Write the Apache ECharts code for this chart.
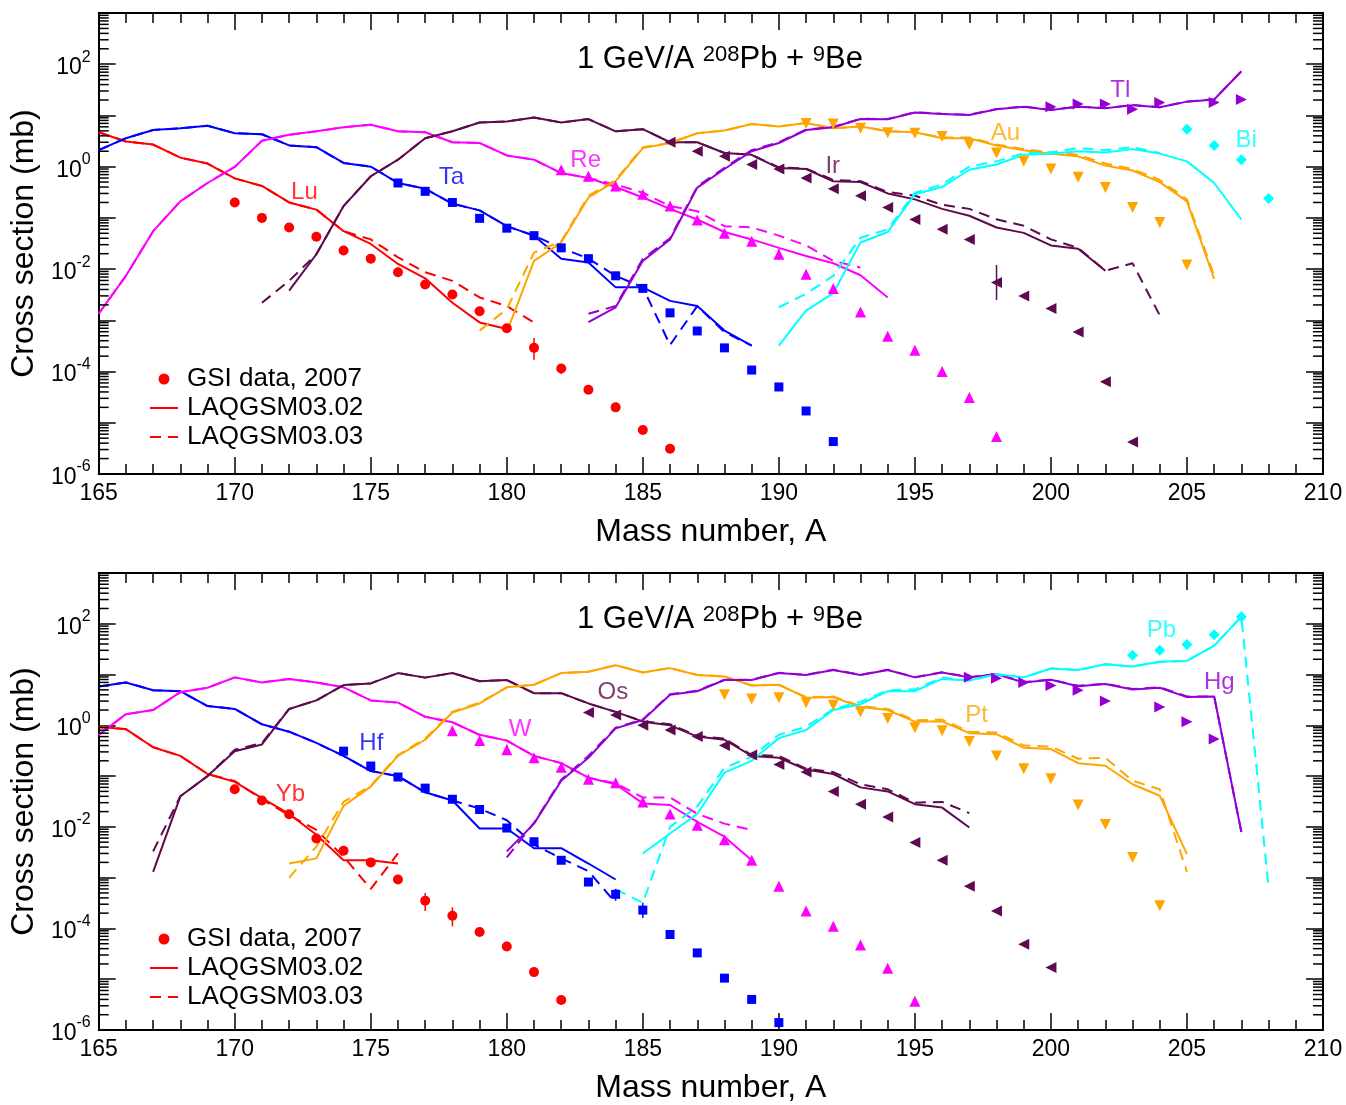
<!DOCTYPE html>
<html><head><meta charset="utf-8">
<script src="https://cdn.jsdelivr.net/npm/echarts@6/dist/echarts.min.js"></script>
<style>html,body{margin:0;padding:0;background:#fff}#c{width:1346px;height:1105px}</style>
</head><body><div id="c"></div><script>
// ===== Top panel: Lu, Ta, Re, Ir, Au, Tl, Bi  (value = cross section in mb, index i -> A = start + i)
const luSolidStart = 165, luSolid = [4.7,3.1,2.7,1.5,1.15,0.59,0.42,0.2,0.145,0.055,0.031,0.0126,0.0066,0.0022,0.00091,0.00068];
const luDashStart = 165, luDash = [4.7,3.1,2.7,1.5,1.15,0.59,0.42,0.2,0.145,0.055,0.038,0.017,0.0087,0.0059,0.0028,0.0019,0.00091];
const luDataStart = 170, luData = [0.2,0.1,0.065,0.043,0.023,0.016,0.0087,0.005,0.0032,0.0015,0.0007,0.00029,0.000115,4.4e-5,2.0e-5,7.2e-6,3.1e-6];

const taSolidStart = 165, taSolid = [2.1,3.6,5.2,5.6,6.3,4.5,4.3,2.6,2.4,1.18,1.0,0.48,0.37,0.19,0.14,0.069,0.045,0.016,0.0135,0.0044,0.0044,0.0024,0.0019,0.00063,0.00032];
const taDashStart = 165, taDash = [2.1,3.6,5.2,5.6,6.3,4.5,4.3,2.6,2.4,1.18,1.0,0.48,0.37,0.19,0.14,0.069,0.045,0.026,0.016,0.0074,0.0044,0.00033,0.0019,0.00059,0.00032];
const taDataStart = 176, taData = [0.48,0.33,0.2,0.098,0.063,0.045,0.026,0.016,0.0074,0.0042,0.0014,0.00062,0.00029,0.000107,5.0e-5,1.7e-5,4.3e-6];

const reSolidStart = 165, reSolid = [0.00135,0.0074,0.055,0.21,0.48,0.99,3.2,4.2,4.9,5.9,6.6,4.9,4.7,3.0,2.9,1.66,1.37,0.75,0.6,0.4,0.25,0.15,0.093,0.053,0.038,0.026,0.018,0.013,0.0076,0.0028];
const reDashStart = 165, reDash = [0.00135,0.0074,0.055,0.21,0.48,0.99,3.2,4.2,4.9,5.9,6.6,4.9,4.7,3.0,2.9,1.66,1.37,0.75,0.6,0.45,0.31,0.17,0.135,0.069,0.065,0.045,0.029,0.0145,0.0107];
const reDataStart = 182, reData = [0.87,0.65,0.42,0.29,0.17,0.091,0.05,0.035,0.0195,0.0079,0.0042,0.00145,0.00049,0.00026,1.0e-4,3.1e-5,5.4e-6];

const irSolidStart = 172, irSolid = [0.0038,0.0195,0.17,0.65,1.37,3.6,4.9,7.3,7.6,9.1,7.3,8.5,4.9,5.4,3.0,3.0,1.85,1.7,0.94,0.9,0.52,0.5,0.3,0.23,0.15,0.11,0.065,0.051,0.029,0.025,0.0093];
const irDashStart = 171, irDash = [0.0022,0.0059,0.0195,0.17,0.65,1.37,3.6,4.9,7.3,7.6,9.1,7.3,8.5,4.9,5.4,3.0,3.0,1.85,1.7,0.97,0.92,0.55,0.52,0.32,0.27,0.18,0.15,0.094,0.07,0.038,0.026,0.0093,0.013,0.00125];
const irDataStart = 186, irData = [3.0,2.0,1.6,1.1,0.9,0.6,0.37,0.27,0.16,0.093,0.06,0.038,0.0055,0.003,0.0017,0.00059,6.3e-5,4.2e-6];

const auSolidStart = 180, auSolid = [0.00059,0.0145,0.033,0.25,0.52,2.3,2.9,4.5,5.1,6.8,6.1,7.1,5.6,6.1,4.9,4.7,3.6,3.6,2.6,2.1,1.79,1.59,1.05,0.84,0.5,0.21,0.0064];
const auDashStart = 179, auDash = [0.00063,0.00166,0.021,0.035,0.27,0.55,2.4,2.9,4.5,5.1,6.8,6.1,7.1,5.6,6.1,4.9,4.7,3.7,3.7,2.7,2.2,1.9,1.7,1.15,0.9,0.55,0.23,0.0074];
const auDataStart = 191, auData = [7.0,6.8,5.6,4.6,4.5,3.9,2.7,1.84,1.27,0.9,0.62,0.39,0.16,0.081,0.012];

const tlSolidStart = 183, tlSolid = [0.00092,0.0018,0.0145,0.038,0.39,0.9,2.0,2.9,5.2,5.9,8.5,8.4,11.4,10.7,10.2,13.2,14.8,12.8,14.8,13.8,15.9,14.4,18.6,20.5,73];
const tlDashStart = 183, tlDash = [0.00134,0.0019,0.016,0.04,0.41,0.95,2.1,3.0,5.3,6.0,8.6,8.5,11.5,10.8,10.3,13.3,14.9,12.9,14.9,13.9,16.0,14.5,18.7,20.6,73];
const tlDataStart = 200, tlData = [14.8,16.7,16.7,13.2,17.8,null,17.8,20.5];

const biSolidStart = 190, biSolid = [0.00032,0.00155,0.0034,0.033,0.053,0.29,0.4,0.87,1.1,1.7,1.79,2.0,1.9,2.2,1.8,1.27,0.48,0.093];
const biDashStart = 190, biDash = [0.0018,0.0033,0.0074,0.041,0.06,0.31,0.45,1.0,1.27,1.84,1.9,2.3,2.1,2.4,1.85];
const biDataStart = 205, biData = [5.4,2.6,1.37,0.24];

// ===== Bottom panel: Yb, Hf, W, Os, Pt, Hg, Pb
const ybSolidStart = 165, ybSolid = [0.94,0.84,0.37,0.25,0.11,0.077,0.037,0.018,0.007,0.0022,0.0022,0.0019];
const ybDashStart = 165, ybDash = [0.94,0.84,0.37,0.25,0.11,0.08,0.035,0.017,0.0087,0.0026,0.0006,0.003];
const ybDataStart = 170, ybData = [0.055,0.033,0.0177,0.0059,0.0034,0.002,0.00092,0.00035,0.000178,8.5e-5,4.4e-5,1.38e-5,3.9e-6];

const hfSolidStart = 165, hfSolid = [5.8,7.0,4.9,4.7,2.4,2.1,1.05,0.75,0.45,0.25,0.126,0.1,0.048,0.033,0.0093,0.0093,0.0038,0.0038,0.0019,0.00092];
const hfDashStart = 165, hfDash = [5.8,7.0,4.9,4.7,2.4,2.1,1.05,0.75,0.45,0.25,0.126,0.1,0.048,0.033,0.023,0.0135,0.0045,0.0024,0.00134,0.00032];
const hfDataStart = 174, hfData = [0.31,0.158,0.096,0.058,0.035,0.022,0.0095,0.0051,0.0022,0.00082,0.00047,0.00023,7.6e-5,3.3e-5,1.05e-5,4.0e-6,1.4e-6];

const wSolidStart = 165, wSolid = [0.65,1.66,2.0,4.5,5.5,8.8,7.0,8.2,7.0,5.6,3.1,2.8,1.47,1.15,0.65,0.5,0.25,0.18,0.093,0.069,0.029,0.027,0.0125,0.0064,0.0022];
const wDashStart = 165, wDash = [0.65,1.66,2.0,4.5,5.5,8.8,7.0,8.2,7.0,5.6,3.1,2.8,1.47,1.15,0.65,0.5,0.25,0.18,0.093,0.072,0.038,0.038,0.018,0.0116,0.0087];
const wDataStart = 178, wData = [0.78,0.5,0.33,0.23,0.15,0.087,0.074,0.031,0.018,0.0108,0.0056,0.0022,0.00068,0.00022,0.000111,4.7e-5,1.65e-5,3.7e-6];

const osSolidStart = 167, osSolid = [0.0013,0.04,0.1,0.31,0.42,2.1,3.1,6.2,6.7,10.7,8.7,10.7,7.4,7.8,4.3,4.3,2.7,1.84,1.18,1.0,0.6,0.52,0.25,0.23,0.135,0.11,0.06,0.05,0.028,0.024,0.0097];
const osDashStart = 167, osDash = [0.0033,0.04,0.1,0.33,0.45,2.1,3.1,6.2,6.7,10.7,8.7,10.7,7.4,7.8,4.3,4.3,2.7,1.84,1.2,1.05,0.62,0.55,0.26,0.25,0.14,0.12,0.069,0.055,0.03,0.031,0.0187];
const osDataStart = 183, osData = [1.79,1.59,1.0,0.81,0.6,0.4,0.26,0.17,0.12,0.05,0.028,0.0156,0.0049,0.0022,0.00068,0.00022,4.9e-5,1.7e-5];

const ptSolidStart = 172, ptSolid = [0.0019,0.0024,0.026,0.062,0.25,0.52,1.79,2.7,5.6,6.3,10.7,11.4,15.3,11.0,13.4,9.8,9.2,6.1,6.3,3.5,3.6,2.3,2.0,1.18,1.2,0.7,0.67,0.36,0.34,0.18,0.16,0.069,0.041,0.0029];
const ptDashStart = 172, ptDash = [0.001,0.0041,0.031,0.065,0.26,0.55,1.85,2.8,5.6,6.3,10.7,11.4,15.3,11.0,13.4,9.8,9.2,6.1,6.3,3.6,3.7,2.4,2.1,1.25,1.3,0.75,0.72,0.4,0.38,0.22,0.23,0.081,0.055,0.0013];
const ptDataStart = 188, ptData = [4.0,3.3,3.5,2.8,2.5,1.84,1.37,0.9,0.78,0.48,0.25,0.14,0.089,0.027,0.0112,0.0025,0.00028];

const hgSolidStart = 180, hgSolid = [0.0033,0.0116,0.081,0.23,0.87,1.27,4.0,4.7,7.8,7.8,10.7,9.8,12.3,9.8,12.3,8.8,11.0,8.8,10.2,7.0,7.9,5.9,6.5,5.1,5.5,3.6,3.7,0.0079];
const hgDashStart = 180, hgDash = [0.0025,0.012,0.085,0.25,0.9,1.3,4.1,4.8,7.9,7.9,10.8,9.9,12.4,9.9,12.4,8.9,11.1,8.9,10.3,7.1,8.0,6.0,6.6,5.2,5.6,3.7,3.7,0.0079];
const hgDataStart = 197, hgData = [8.8,8.5,7.0,6.1,4.9,3.0,null,2.3,1.18,0.54];

const pbSolidStart = 185, pbSolid = [0.003,0.0074,0.018,0.117,0.2,0.56,0.81,2.0,2.6,4.7,4.7,8.2,7.6,10.2,8.8,13.2,12.3,15.9,14.4,17.8,18.6,37,138];
const pbDashStart = 184, pbDash = [0.00059,0.00032,0.01,0.025,0.147,0.24,0.65,0.94,2.1,2.9,4.9,5.1,8.8,7.6,10.2,8.8,13.2,12.3,15.9,14.4,17.8,18.6,37,138,0.00063];
const pbDataStart = 203, pbData = [24,30,39,61,138];

// error bars [element, A, low, high]
const topErrors = [['Lu',181,0.00017,0.00045],['Lu',182,0.00009,0.00014],['Ir',198,0.0025,0.012],['Re',190,0.015,0.025]];
const botErrors = [['Yb',177,0.00022,0.0005],['Yb',178,0.00011,0.00026],['Hf',185,0.00016,0.00032],['W',180,0.26,0.42],['Hf',184,0.00035,0.0006]];

// element label anchors [text, A, value]
const topLabels = [['Lu',172.56,0.32],['Ta',177.96,0.63],['Re',182.9,1.35],['Ir',191.98,1.0],['Au',198.33,4.5],['Tl',202.55,31],['Bi',207.18,3.2]];
const botLabels = [['Yb',172.05,0.043],['Hf',175.02,0.44],['W',180.49,0.83],['Os',183.9,4.4],['Pt',197.27,1.6],['Pb',204.06,74],['Hg',206.19,7.1]];

const legendNames = ['GSI data, 2007','LAQGSM03.02','LAQGSM03.03'];
const titleText = '1 GeV/A {s|208}Pb + {s|9}Be';

// ===== build
const FONT = "'Liberation Sans', Arial, Helvetica, sans-serif";
const C = {red:'#ff0000', blue:'#0000ff', mag:'#ff00ff', plum:'#5e0a4f', orange:'#ffa500', violet:'#9400d3', cyan:'#00ffff'};
function seq(start, vals){ const o=[]; vals.forEach((v,i)=>{ if(v!=null) o.push([start+i, v]); }); return o; }

const panels = [
 [
  {el:'Lu', color:C.red, sym:'circle', size:10, rot:0, s:[luSolidStart,luSolid], d:[luDashStart,luDash], p:[luDataStart,luData]},
  {el:'Ta', color:C.blue, sym:'rect', size:9, rot:0, s:[taSolidStart,taSolid], d:[taDashStart,taDash], p:[taDataStart,taData]},
  {el:'Re', color:C.mag, sym:'triangle', size:11, rot:0, s:[reSolidStart,reSolid], d:[reDashStart,reDash], p:[reDataStart,reData]},
  {el:'Ir', color:C.plum, sym:'triangle', size:11, rot:90, s:[irSolidStart,irSolid], d:[irDashStart,irDash], p:[irDataStart,irData]},
  {el:'Au', color:C.orange, sym:'triangle', size:11, rot:180, s:[auSolidStart,auSolid], d:[auDashStart,auDash], p:[auDataStart,auData]},
  {el:'Tl', color:C.violet, sym:'triangle', size:11, rot:-90, s:[tlSolidStart,tlSolid], d:[tlDashStart,tlDash], p:[tlDataStart,tlData]},
  {el:'Bi', color:C.cyan, sym:'diamond', size:11, rot:0, s:[biSolidStart,biSolid], d:[biDashStart,biDash], p:[biDataStart,biData]}
 ],
 [
  {el:'Yb', color:C.red, sym:'circle', size:10, rot:0, s:[ybSolidStart,ybSolid], d:[ybDashStart,ybDash], p:[ybDataStart,ybData]},
  {el:'Hf', color:C.blue, sym:'rect', size:9, rot:0, s:[hfSolidStart,hfSolid], d:[hfDashStart,hfDash], p:[hfDataStart,hfData]},
  {el:'W', color:C.mag, sym:'triangle', size:11, rot:0, s:[wSolidStart,wSolid], d:[wDashStart,wDash], p:[wDataStart,wData]},
  {el:'Os', color:C.plum, sym:'triangle', size:11, rot:90, s:[osSolidStart,osSolid], d:[osDashStart,osDash], p:[osDataStart,osData]},
  {el:'Pt', color:C.orange, sym:'triangle', size:11, rot:180, s:[ptSolidStart,ptSolid], d:[ptDashStart,ptDash], p:[ptDataStart,ptData]},
  {el:'Hg', color:C.violet, sym:'triangle', size:11, rot:-90, s:[hgSolidStart,hgSolid], d:[hgDashStart,hgDash], p:[hgDataStart,hgData]},
  {el:'Pb', color:C.cyan, sym:'diamond', size:11, rot:0, s:[pbSolidStart,pbSolid], d:[pbDashStart,pbDash], p:[pbDataStart,pbData]}
 ]
];
const labelSets = [topLabels, botLabels];
const errorSets = [topErrors, botErrors];

const GRID_TOP = [13, 573], GRID_H = 461, GRID_L = 97, GRID_W = 1226;
const grid = GRID_TOP.map(t => ({left:GRID_L, top:t, width:GRID_W, height:GRID_H, containLabel:false}));

const xAxis = [], yAxis = [];
GRID_TOP.forEach((t, g) => {
  const base = {type:'value', gridIndex:g, min:165, max:210, interval:5,
    axisLine:{show:true, onZero:false, lineStyle:{color:'#000', width:2}},
    axisTick:{show:true, inside:true, length:17, lineStyle:{color:'#000', width:1.5}},
    minorTick:{show:true, splitNumber:5, length:10, lineStyle:{color:'#000', width:1.5}},
    splitLine:{show:false}, minorSplitLine:{show:false}};
  xAxis.push(Object.assign({}, base, {position:'bottom',
    axisLabel:{show:true, color:'#000', fontSize:23, fontFamily:FONT, margin:8},
    name:'Mass number, A', nameLocation:'middle', nameGap:42,
    nameTextStyle:{color:'#000', fontSize:32, fontFamily:FONT}}));
  xAxis.push(Object.assign({}, base, {position:'top', axisLabel:{show:false}}));
  const ybase = {type:'log', logBase:10, gridIndex:g, min:1e-6, max:1e3, splitNumber:9,
    axisLine:{show:true, onZero:false, lineStyle:{color:'#000', width:2}},
    axisTick:{show:true, inside:true, length:17, lineStyle:{color:'#000', width:1.5}},
    splitLine:{show:false}};
  yAxis.push(Object.assign({}, ybase, {position:'left',
    axisLabel:{show:true, margin:8, fontFamily:FONT, color:'#000',
      formatter: v => { const e = Math.round(Math.log10(v)); return (e % 2 === 0) ? '{b|10}{s|' + e + '}' : ''; },
      rich:{b:{fontSize:23, fontFamily:FONT, color:'#000', lineHeight:30, verticalAlign:'bottom'},
            s:{fontSize:16, fontFamily:FONT, color:'#000', lineHeight:16, verticalAlign:'top'}}},
    name:'Cross section (mb)', nameLocation:'middle', nameGap:56,
    nameTextStyle:{color:'#000', fontSize:32, fontFamily:FONT}}));
  yAxis.push(Object.assign({}, ybase, {position:'right', axisLabel:{show:false}}));
});

// minor log ticks (2..9 x 10^k) drawn on both frame sides via the y scale
const minorVals = [];
for (let k = -6; k < 3; k++) for (let m = 2; m <= 9; m++) minorVals.push([165, m * Math.pow(10, k)]);

const series = [];
panels.forEach((els, g) => {
  const xi = g * 2, yi = g * 2;
  els.forEach((e, idx) => {
    const first = idx === 0;
    series.push({type:'line', name: first ? legendNames[1] : e.el + ' 03.02', xAxisIndex:xi, yAxisIndex:yi,
      data: seq(e.s[0], e.s[1]), symbol:'none', color:e.color, lineStyle:{color:e.color, width:2}, z:2, silent:true, animation:false});
    series.push({type:'line', name: first ? legendNames[2] : e.el + ' 03.03', xAxisIndex:xi, yAxisIndex:yi,
      data: seq(e.d[0], e.d[1]), symbol:'none', color:e.color, lineStyle:{color:e.color, width:2, type:[11,7]}, z:2, silent:true, animation:false});
  });
  // error bars
  series.push({type:'custom', xAxisIndex:xi, yAxisIndex:yi, silent:true, animation:false, z:3,
    data: errorSets[g].map(r => ({value:[r[1], r[2], r[3]], itemStyle:{color: els.find(e => e.el === r[0]).color}})),
    renderItem: (params, api) => {
      const lo = api.coord([api.value(0), api.value(1)]);
      const hi = api.coord([api.value(0), api.value(2)]);
      return {type:'line', shape:{x1:lo[0], y1:lo[1], x2:hi[0], y2:hi[1]}, style:{stroke: api.visual('color'), lineWidth:1.5}};
    }});
  els.forEach((e, idx) => {
    series.push({type:'scatter', name: idx === 0 ? legendNames[0] : e.el + ' data', xAxisIndex:xi, yAxisIndex:yi,
      data: seq(e.p[0], e.p[1]), symbol:e.sym, symbolSize:e.size, symbolRotate:e.rot,
      itemStyle:{color:e.color, opacity:1}, color:e.color, z:3, silent:true, animation:false});
  });
  // element labels
  series.push({type:'scatter', xAxisIndex:xi, yAxisIndex:yi, symbolSize:1, itemStyle:{color:'rgba(0,0,0,0)'},
    silent:true, animation:false, z:4,
    data: labelSets[g].map(l => ({name:l[0], value:[l[1], l[2]],
      label:{show:true, position:'inside', formatter:'{b}', fontSize:24, fontFamily:FONT,
        color: els.find(e => e.el === l[0]).color}}))});
  // minor ticks
  series.push({type:'custom', xAxisIndex:xi, yAxisIndex:yi, silent:true, animation:false, z:5,
    data: minorVals,
    renderItem: (params, api) => {
      const p = api.coord([api.value(0), api.value(1)]);
      const cs = params.coordSys;
      return {type:'group', children:[
        {type:'line', shape:{x1:cs.x, y1:p[1], x2:cs.x + 10, y2:p[1]}, style:{stroke:'#000', lineWidth:1.5}},
        {type:'line', shape:{x1:cs.x + cs.width, y1:p[1], x2:cs.x + cs.width - 10, y2:p[1]}, style:{stroke:'#000', lineWidth:1.5}}
      ]};
    }});
});

const legend = GRID_TOP.map((t, g) => ({
  data: [{name:legendNames[0]},
         {name:legendNames[1], itemStyle:{opacity:0}},
         {name:legendNames[2], itemStyle:{opacity:0}}],
  orient:'vertical', left:144, top: t + 348, itemWidth:28, itemHeight:11, itemGap:3,
  selectedMode:false, textStyle:{color:'#000', fontSize:26, fontFamily:FONT, padding:[0,0,0,4], lineHeight:25}
}));

const title = GRID_TOP.map(t => ({
  text: titleText, left: 572, top: t + 26,
  textStyle:{fontSize:31, fontWeight:'normal', color:'#000', fontFamily:FONT,
    rich:{s:{fontSize:22, fontFamily:FONT, color:'#000', verticalAlign:'top', lineHeight:20}}}
}));

const chart = echarts.init(document.getElementById('c'), null, {renderer:'canvas'});
chart.setOption({backgroundColor:'#fff', animation:false, textStyle:{fontFamily:FONT},
  title, legend, grid, xAxis, yAxis, series});
</script></body></html>
